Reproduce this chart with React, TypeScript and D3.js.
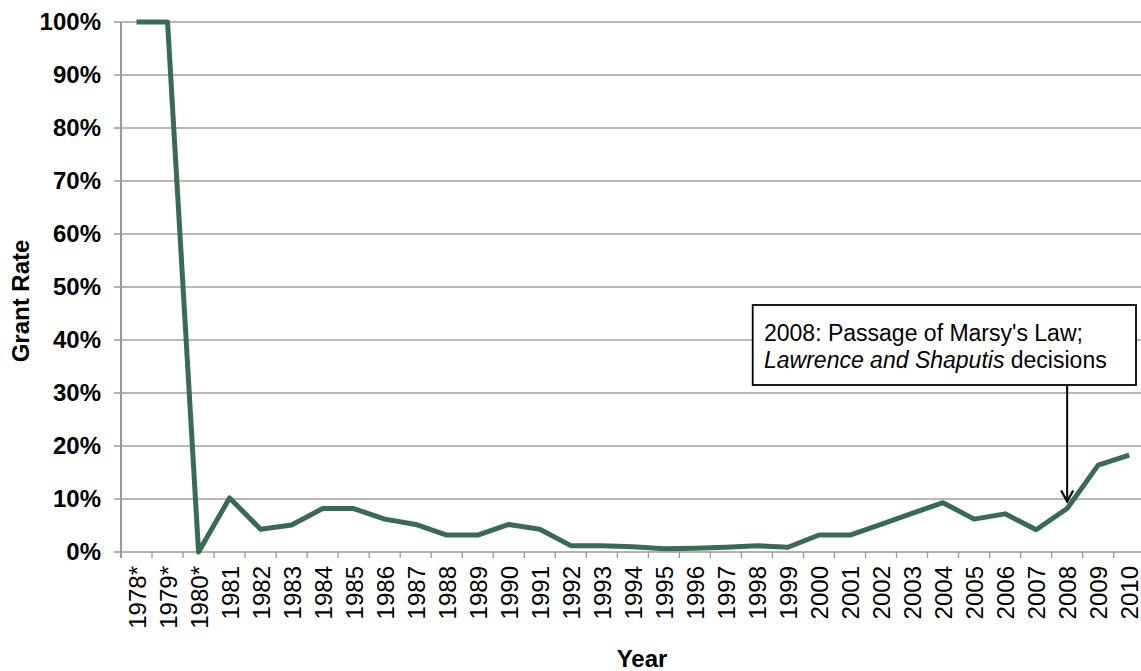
import React from "react";
import * as d3 from "d3";

const years: string[] = [
  "1978*", "1979*", "1980*", "1981", "1982", "1983", "1984", "1985", "1986", "1987",
  "1988", "1989", "1990", "1991", "1992", "1993", "1994", "1995", "1996", "1997",
  "1998", "1999", "2000", "2001", "2002", "2003", "2004", "2005", "2006", "2007",
  "2008", "2009", "2010",
];
const grantRate: number[] = [
  100, 100, 0, 10.2, 4.3, 5.1, 8.2, 8.2, 6.2, 5.2,
  3.2, 3.2, 5.2, 4.3, 1.2, 1.2, 1.0, 0.6, 0.7, 0.9,
  1.2, 0.9, 3.2, 3.2, 5.2, 7.3, 9.3, 6.2, 7.2, 4.2,
  8.2, 16.4, 18.3,
];
const yTicks: number[] = [0, 10, 20, 30, 40, 50, 60, 70, 80, 90, 100];
const annotationYear = "2008";
const annotationLine1 = "2008: Passage of Marsy's Law;";
const annotationItalic = "Lawrence and Shaputis";
const annotationRest = " decisions";

const W = 1141;
const H = 671;
const left = 121;
const right = 1144.7;
const top = 22;
const bottom = 552;
const FONT = "'Liberation Sans', Arial, sans-serif";

export default function App() {
  const x = d3.scaleBand<string>().domain(years).range([left, right]).padding(0);
  const y = d3.scaleLinear().domain([0, 100]).range([bottom, top]);
  const cx = (c: string) => (x(c) as number) + x.bandwidth() / 2;
  const line = d3
    .line<number>()
    .x((_, i) => cx(years[i]))
    .y((d) => y(d));

  const arrowX = cx(annotationYear);
  const arrowTipY = y(grantRate[years.indexOf(annotationYear)]) - 7;
  const boxX = 752.7, boxY = 305, boxW = 383.3, boxH = 80;

  return (
    <svg
      width={W}
      height={H}
      style={{ position: "absolute", left: 0, top: 0, background: "#fff" }}
      fontFamily={FONT}
    >
      {/* gridlines */}
      {yTicks.filter((t) => t > 0).map((t) => (
        <line key={"g" + t} x1={left} x2={W} y1={y(t)} y2={y(t)} stroke="#a0a0a0" strokeWidth={1.3} />
      ))}
      {/* y ticks */}
      {yTicks.map((t) => (
        <line key={"yt" + t} x1={left - 7} x2={left} y1={y(t)} y2={y(t)} stroke="#999" strokeWidth={1.5} />
      ))}
      {/* x axis */}
      <line x1={left} x2={W} y1={bottom} y2={bottom} stroke="#999" strokeWidth={1.5} />
      {years.map((c) => (
        <line key={"xt" + c} x1={x(c) as number} x2={x(c) as number} y1={bottom} y2={bottom + 6} stroke="#999" strokeWidth={1.3} />
      ))}
      {/* y axis */}
      <line x1={left} x2={left} y1={top} y2={bottom + 6} stroke="#999" strokeWidth={2} />
      {/* y tick labels */}
      {yTicks.map((t) => (
        <text
          key={"yl" + t}
          x={101}
          y={y(t) + 8}
          textAnchor="end"
          fontWeight="bold"
          fontSize={24}
          fill="#000"
        >
          {t + "%"}
        </text>
      ))}
      {/* x tick labels */}
      {years.map((c) => (
        <text
          key={"xl" + c}
          transform={`translate(${cx(c) + 9},${566}) rotate(-90)`}
          textAnchor="end"
          fontSize={24}
          fill="#000"
        >
          {c}
        </text>
      ))}
      {/* axis titles */}
      <text transform={`translate(29,301) rotate(-90)`} textAnchor="middle" fontWeight="bold" fontSize={24}>
        Grant Rate
      </text>
      <text x={642} y={667} textAnchor="middle" fontWeight="bold" fontSize={24}>
        Year
      </text>
      {/* data line */}
      <path d={line(grantRate) || ""} fill="none" stroke="#3b6a53" strokeWidth={5} strokeLinejoin="round" />
      {/* annotation */}
      <line x1={arrowX} x2={arrowX} y1={boxY + boxH} y2={arrowTipY} stroke="#000" strokeWidth={2} />
      <path
        d={`M${arrowX - 6},${arrowTipY - 11} L${arrowX},${arrowTipY} L${arrowX + 6},${arrowTipY - 11}`}
        fill="none"
        stroke="#000"
        strokeWidth={2.2}
      />
      <rect x={boxX} y={boxY} width={boxW} height={boxH} fill="#fff" stroke="#000" strokeWidth={1.8} />
      <text x={764} y={341} fontSize={23} fill="#000">
        {annotationLine1}
      </text>
      <text x={764} y={368} fontSize={23} fill="#000">
        <tspan fontStyle="italic">{annotationItalic}</tspan>
        <tspan>{annotationRest}</tspan>
      </text>
    </svg>
  );
}
